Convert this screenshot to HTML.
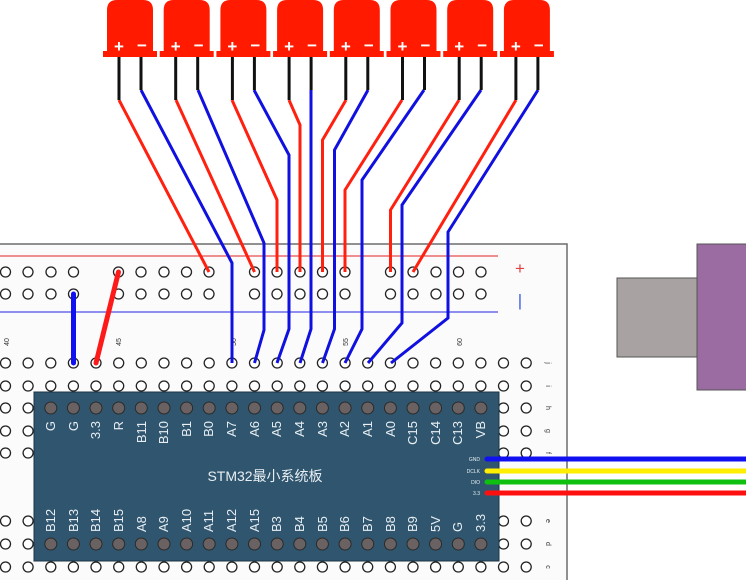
<!DOCTYPE html>
<html><head><meta charset="utf-8"><style>
html,body{margin:0;padding:0;background:#fff;}
svg{display:block;font-family:"Liberation Sans","Noto Sans CJK SC",sans-serif;}
</style></head><body>
<svg width="746" height="580" viewBox="0 0 746 580" xmlns="http://www.w3.org/2000/svg">
<rect width="746" height="580" fill="#fff"/>
<!-- breadboard -->
<rect x="-2" y="244" width="569" height="340" fill="#fbfbfb" stroke="#6c6c6c" stroke-width="1.5"/>
<line x1="0" y1="256" x2="498" y2="256" stroke="#e02020" stroke-width="1"/>
<line x1="0" y1="312" x2="498" y2="312" stroke="#2020e0" stroke-width="1"/>
<text x="520" y="274" font-size="17" fill="#e04040" text-anchor="middle">+</text>
<text x="520" y="306" font-size="17" fill="#4060e0" text-anchor="middle">|</text>
<g font-size="7" fill="#333">
<text transform="translate(9,342) rotate(-90)" text-anchor="middle">40</text>
<text transform="translate(121,342) rotate(-90)" text-anchor="middle">45</text>
<text transform="translate(236,342) rotate(-90)" text-anchor="middle">50</text>
<text transform="translate(348,342) rotate(-90)" text-anchor="middle">55</text>
<text transform="translate(462,342) rotate(-90)" text-anchor="middle">60</text>
<text transform="translate(546,363) rotate(90)" text-anchor="middle">j</text>
<text transform="translate(546,386) rotate(90)" text-anchor="middle">i</text>
<text transform="translate(546,408) rotate(90)" text-anchor="middle">h</text>
<text transform="translate(546,431) rotate(90)" text-anchor="middle">g</text>
<text transform="translate(546,453) rotate(90)" text-anchor="middle">f</text>
<text transform="translate(546,521) rotate(90)" text-anchor="middle">e</text>
<text transform="translate(546,544) rotate(90)" text-anchor="middle">d</text>
<text transform="translate(546,567) rotate(90)" text-anchor="middle">c</text>
</g>
<g fill="#fff" stroke="#222" stroke-width="1.3">
<g id="rail">
<circle cx="5.5" cy="272" r="5"/><circle cx="28" cy="272" r="5"/><circle cx="51" cy="272" r="5"/><circle cx="73.5" cy="272" r="5"/>
<circle cx="118.5" cy="272" r="5"/><circle cx="141" cy="272" r="5"/><circle cx="164" cy="272" r="5"/><circle cx="186.5" cy="272" r="5"/><circle cx="209" cy="272" r="5"/>
<circle cx="254.5" cy="272" r="5"/><circle cx="277" cy="272" r="5"/><circle cx="300" cy="272" r="5"/><circle cx="322.5" cy="272" r="5"/><circle cx="345" cy="272" r="5"/>
<circle cx="390.5" cy="272" r="5"/><circle cx="413" cy="272" r="5"/><circle cx="436" cy="272" r="5"/><circle cx="458.5" cy="272" r="5"/><circle cx="481" cy="272" r="5"/>
</g>
<use href="#rail" y="22"/>
<g id="row">
<circle cx="5.5" cy="363" r="5"/><circle cx="28.1" cy="363" r="5"/><circle cx="50.8" cy="363" r="5"/><circle cx="73.4" cy="363" r="5"/><circle cx="96" cy="363" r="5"/><circle cx="118.7" cy="363" r="5"/><circle cx="141.3" cy="363" r="5"/><circle cx="164" cy="363" r="5"/><circle cx="186.6" cy="363" r="5"/><circle cx="209.2" cy="363" r="5"/><circle cx="231.9" cy="363" r="5"/><circle cx="254.5" cy="363" r="5"/><circle cx="277.2" cy="363" r="5"/><circle cx="299.8" cy="363" r="5"/><circle cx="322.4" cy="363" r="5"/><circle cx="345.1" cy="363" r="5"/><circle cx="367.7" cy="363" r="5"/><circle cx="390.4" cy="363" r="5"/><circle cx="413" cy="363" r="5"/><circle cx="435.6" cy="363" r="5"/><circle cx="458.3" cy="363" r="5"/><circle cx="480.9" cy="363" r="5"/><circle cx="503.5" cy="363" r="5"/><circle cx="526.2" cy="363" r="5"/>
</g>
<use href="#row" y="23"/><use href="#row" y="45"/><use href="#row" y="68"/><use href="#row" y="90"/>
<use href="#row" y="158"/><use href="#row" y="181"/><use href="#row" y="204"/>
</g>
<!-- chip -->
<rect x="34" y="392" width="465" height="169" fill="#30566f" stroke="#1e3444" stroke-width="1"/>
<g fill="#6a6262" stroke="#2a2a2a" stroke-width="1">
<g id="pins">
<circle cx="50.8" cy="408" r="6"/><circle cx="73.4" cy="408" r="6"/><circle cx="96" cy="408" r="6"/><circle cx="118.7" cy="408" r="6"/><circle cx="141.3" cy="408" r="6"/><circle cx="164" cy="408" r="6"/><circle cx="186.6" cy="408" r="6"/><circle cx="209.2" cy="408" r="6"/><circle cx="231.9" cy="408" r="6"/><circle cx="254.5" cy="408" r="6"/><circle cx="277.2" cy="408" r="6"/><circle cx="299.8" cy="408" r="6"/><circle cx="322.4" cy="408" r="6"/><circle cx="345.1" cy="408" r="6"/><circle cx="367.7" cy="408" r="6"/><circle cx="390.4" cy="408" r="6"/><circle cx="413" cy="408" r="6"/><circle cx="435.6" cy="408" r="6"/><circle cx="458.3" cy="408" r="6"/><circle cx="480.9" cy="408" r="6"/>
</g>
<use href="#pins" y="136"/>
</g>
<g fill="#e8eef2" font-size="13">
<g text-anchor="end">
<text transform="translate(55,421) rotate(-90)">G</text>
<text transform="translate(78,421) rotate(-90)">G</text>
<text transform="translate(100,421) rotate(-90)">3.3</text>
<text transform="translate(123,421) rotate(-90)">R</text>
<text transform="translate(146,421) rotate(-90)">B11</text>
<text transform="translate(168,421) rotate(-90)">B10</text>
<text transform="translate(191,421) rotate(-90)">B1</text>
<text transform="translate(213,421) rotate(-90)">B0</text>
<text transform="translate(236,421) rotate(-90)">A7</text>
<text transform="translate(259,421) rotate(-90)">A6</text>
<text transform="translate(281,421) rotate(-90)">A5</text>
<text transform="translate(304,421) rotate(-90)">A4</text>
<text transform="translate(327,421) rotate(-90)">A3</text>
<text transform="translate(349,421) rotate(-90)">A2</text>
<text transform="translate(372,421) rotate(-90)">A1</text>
<text transform="translate(395,421) rotate(-90)">A0</text>
<text transform="translate(417,421) rotate(-90)">C15</text>
<text transform="translate(440,421) rotate(-90)">C14</text>
<text transform="translate(462,421) rotate(-90)">C13</text>
<text transform="translate(485,421) rotate(-90)">VB</text>
</g>
<g text-anchor="start">
<text transform="translate(55,532) rotate(-90)">B12</text>
<text transform="translate(78,532) rotate(-90)">B13</text>
<text transform="translate(100,532) rotate(-90)">B14</text>
<text transform="translate(123,532) rotate(-90)">B15</text>
<text transform="translate(146,532) rotate(-90)">A8</text>
<text transform="translate(168,532) rotate(-90)">A9</text>
<text transform="translate(191,532) rotate(-90)">A10</text>
<text transform="translate(213,532) rotate(-90)">A11</text>
<text transform="translate(236,532) rotate(-90)">A12</text>
<text transform="translate(259,532) rotate(-90)">A15</text>
<text transform="translate(281,532) rotate(-90)">B3</text>
<text transform="translate(304,532) rotate(-90)">B4</text>
<text transform="translate(327,532) rotate(-90)">B5</text>
<text transform="translate(349,532) rotate(-90)">B6</text>
<text transform="translate(372,532) rotate(-90)">B7</text>
<text transform="translate(395,532) rotate(-90)">B8</text>
<text transform="translate(417,532) rotate(-90)">B9</text>
<text transform="translate(440,532) rotate(-90)">5V</text>
<text transform="translate(462,532) rotate(-90)">G</text>
<text transform="translate(485,532) rotate(-90)">3.3</text>
</g>
<text x="265" y="481" font-size="14" text-anchor="middle">STM32最小系统板</text>
<g font-size="5" text-anchor="end">
<text x="480" y="461">GND</text><text x="480" y="473">DCLK</text><text x="480" y="484">DIO</text><text x="480" y="495">3.3</text>
</g>
</g>
<g stroke-width="5" stroke-linecap="round">
<line x1="487" y1="459" x2="750" y2="459" stroke="#1010f0"/>
<line x1="487" y1="471" x2="750" y2="471" stroke="#ffee00"/>
<line x1="487" y1="482" x2="750" y2="482" stroke="#10c010"/>
<line x1="487" y1="493" x2="750" y2="493" stroke="#ff1010"/>
</g>
<rect x="617" y="278" width="80" height="79" fill="#a9a2a2" stroke="#555" stroke-width="1"/>
<rect x="697" y="244" width="52" height="146" fill="#9b6ca2" stroke="#555" stroke-width="1"/>
<line x1="73.5" y1="294" x2="73.5" y2="363" stroke="#1010f0" stroke-width="5" stroke-linecap="round"/>
<line x1="118.5" y1="272" x2="96" y2="363" stroke="#ff1a1a" stroke-width="5" stroke-linecap="round"/>
<g fill="none" stroke="#ff2010" stroke-width="3">
<polyline points="119,100 209,272"/>
<polyline points="176,100 254.5,272"/>
<polyline points="232,100 277,200 277,272"/>
<polyline points="289,100 300,125 300,272"/>
<polyline points="346,100 322.5,140 322.5,272"/>
<polyline points="402,100 345,190 345,272"/>
<polyline points="459,100 390.5,210 390.5,272"/>
<polyline points="516,100 413,272"/>
</g>
<g fill="none" stroke="#1010e0" stroke-width="3">
<polyline points="141,90 232,263 232,363"/>
<polyline points="198,90 264,243 264,330 254.5,363"/>
<polyline points="254,90 289,155 289,329 277,363"/>
<polyline points="311,90 311,329 300,363"/>
<polyline points="368,90 334.5,150 334.5,329 322.5,363"/>
<polyline points="424,90 362,180 362,329 345,363"/>
<polyline points="481,90 402,205 402,323 368,363"/>
<polyline points="538,90 448,232 448,318 391,363"/>
</g>
<g id="led">
<line x1="119" y1="56" x2="119" y2="100" stroke="#111" stroke-width="3"/>
<line x1="141" y1="56" x2="141" y2="90" stroke="#111" stroke-width="3"/>
<path d="M107,54 L107,10 Q107,0 117,0 L143,0 Q153,0 153,10 L153,54 Z" fill="#ff1a00"/>
<rect x="103" y="51" width="54" height="6" fill="#ff1a00"/>
<text x="119" y="52" font-size="17" font-weight="bold" fill="#fff" text-anchor="middle">+</text>
<text x="142" y="51" font-size="17" font-weight="bold" fill="#fff" text-anchor="middle">−</text>
</g>
<use href="#led" x="56.7"/><use href="#led" x="113.4"/><use href="#led" x="170.1"/><use href="#led" x="226.8"/><use href="#led" x="283.5"/><use href="#led" x="340.2"/><use href="#led" x="396.9"/>
</svg>
</body></html>
